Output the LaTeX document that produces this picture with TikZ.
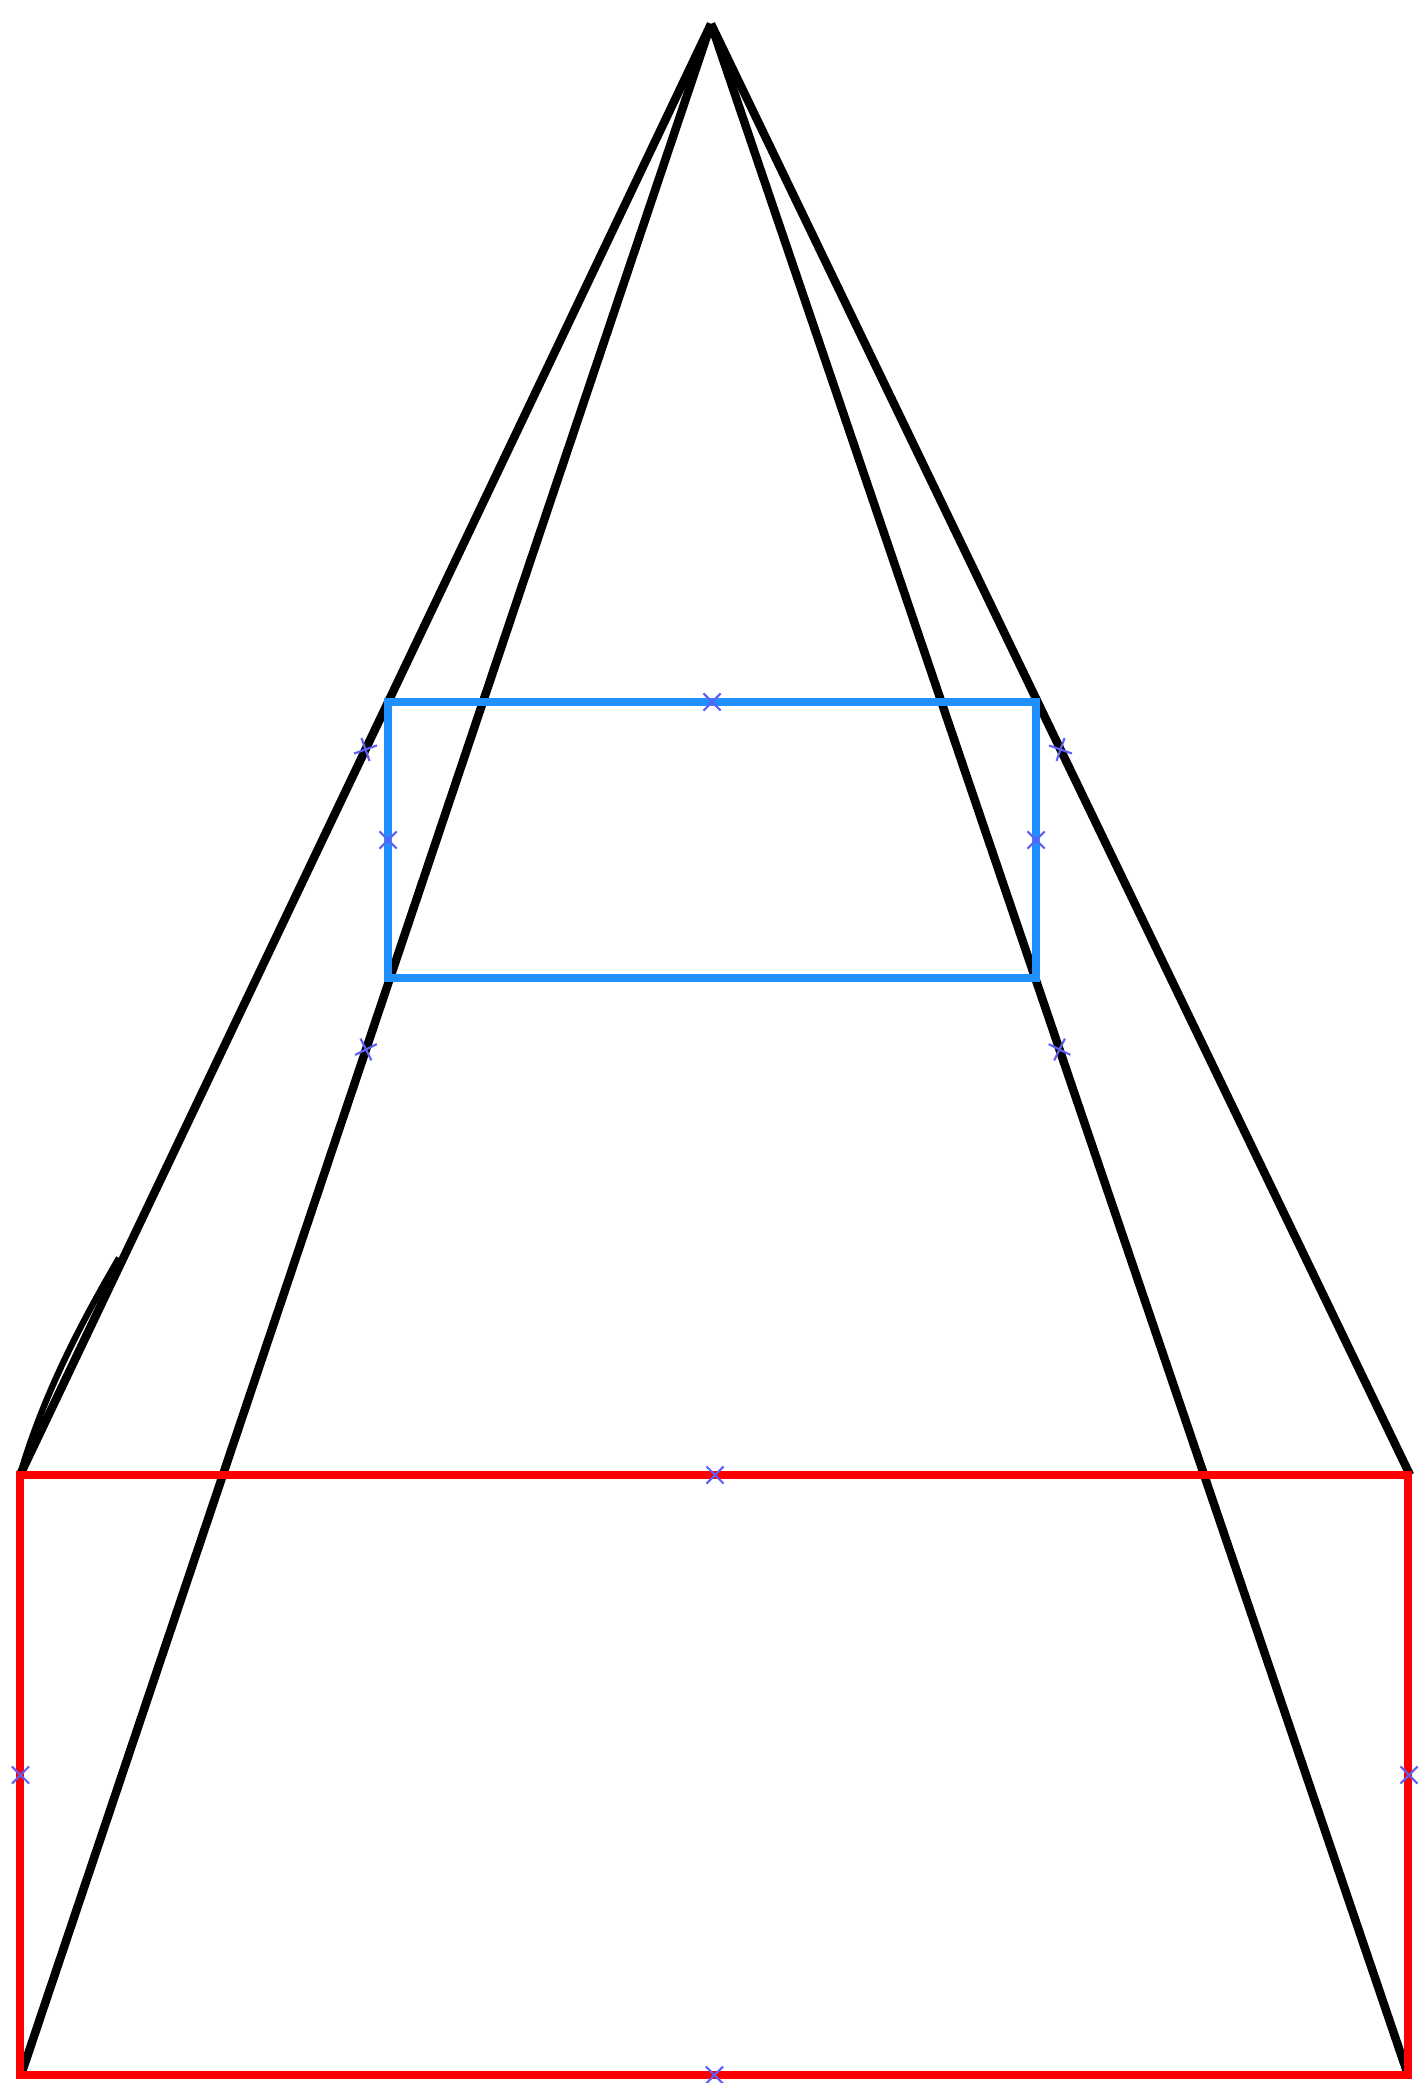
\documentclass[tikz,border=0pt]{standalone}
\usetikzlibrary{shapes.misc}
\definecolor{sectionblue}{RGB}{30,144,255}
\definecolor{baseface}{RGB}{255,0,0}
\definecolor{markblue}{RGB}{95,95,245}
\begin{document}
\begin{tikzpicture}[
    x=0.01cm, y=-0.01cm,
    edge/.style={draw=black, line width=2.4pt},
    cutface/.style={draw=sectionblue, line width=2.4pt},
    baserect/.style={draw=baseface, line width=2.4pt},
    midmark/.style={cross out, draw=markblue, line width=0.6pt,
        minimum size=0.15cm, inner sep=0pt, sloped}
]
\useasboundingbox (0,0) rectangle (1421,2083);

% apex and the corners of the base
\coordinate (apex) at (711,24);
\coordinate (tl) at (20,1475);
\coordinate (tr) at (1410,1475);
\coordinate (bl) at (21,2075);
\coordinate (br) at (1408,2075);

% cross section
\coordinate (ctl) at (388,702);
\coordinate (ctr) at (1036,702);
\coordinate (cbl) at (388,978);
\coordinate (cbr) at (1036,978);

% edges from the apex
\draw[edge] (apex) -- (tl);
\draw[edge] (apex) -- (tr);
\draw[edge] (apex) -- (bl);
\draw[edge] (apex) -- (br);
\draw[edge, line width=1.8pt] (119,1258) .. controls (84,1318) and (44,1392) .. (tl);

\draw[cutface] (ctl) rectangle (cbr);
\draw[baserect] (tl) rectangle (br);

% midpoints
\path (apex) -- node[midmark] {} (tl);
\path (apex) -- node[midmark] {} (tr);
\path (apex) -- node[midmark] {} (bl);
\path (apex) -- node[midmark] {} (br);
\path (ctl) -- node[midmark] {} (ctr);
\path (ctl) -- node[midmark] {} (cbl);
\path (ctr) -- node[midmark] {} (cbr);
\path (tl) -- node[midmark] {} (tr);
\path (bl) -- node[midmark] {} (br);
\path (tl) -- node[midmark] {} (bl);
\path (tr) -- node[midmark] {} (br);
\end{tikzpicture}
\end{document}
